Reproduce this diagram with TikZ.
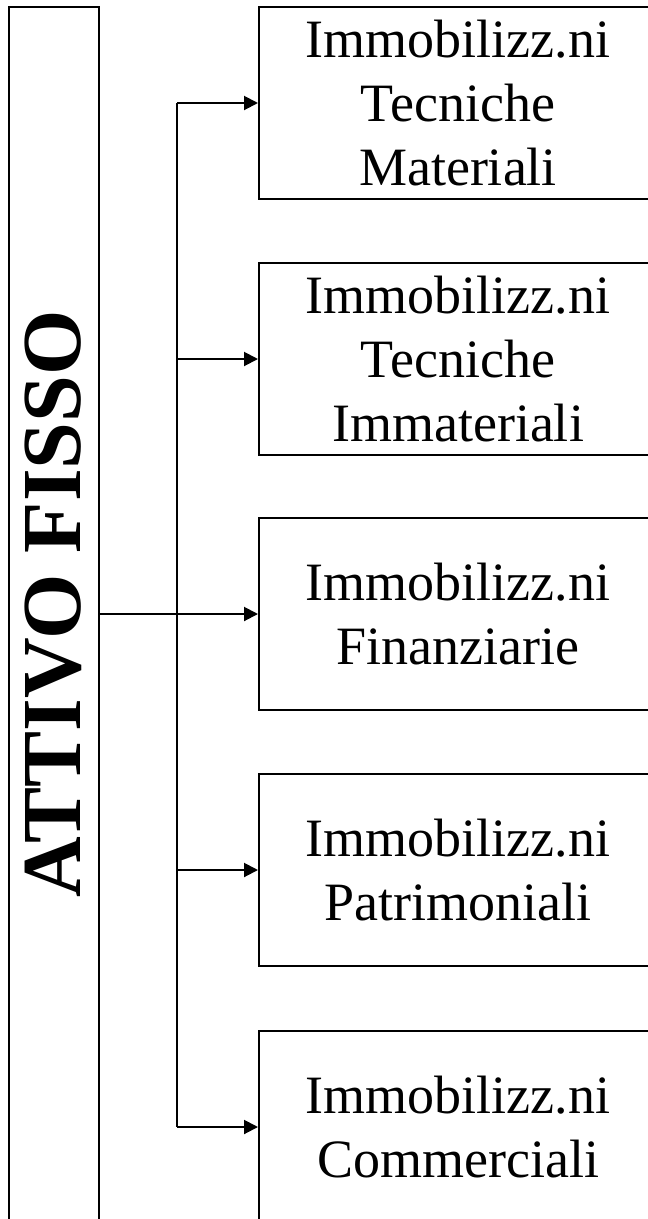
\documentclass[tikz,border=0pt]{standalone}
\usepackage{fontspec}
\setmainfont{Liberation Serif}
\usetikzlibrary{arrows.meta}

\tikzset{
  voce/.style={draw, line width=2pt, minimum width=398pt, minimum height=192pt,
    anchor=west, align=center, inner sep=0pt,
    font=\fontsize{54}{64}\selectfont},
  freccia/.style={line width=2pt, -{Triangle[length=14pt,width=14pt]}}
}

\begin{document}
\begin{tikzpicture}[x=1pt,y=-1pt]
	\useasboundingbox (0,0) rectangle (648,1219);
	\clip (0,0) rectangle (648,1219);
	\node[draw, line width=2pt, minimum width=90pt, minimum height=1240pt, anchor=north west, inner sep=0pt] (attivo) at (8,6) {};
	\node[rotate=90, font=\fontsize{84}{84}\bfseries] at (53,604) {ATTIVO FISSO};
	\foreach \n/\y/\testo in {1/103/{Immobilizz.ni\\Tecniche\\Materiali},
	  2/359/{Immobilizz.ni\\Tecniche\\Immateriali},
	  3/614/{Immobilizz.ni\\Finanziarie},
	  4/870/{Immobilizz.ni\\Patrimoniali},
	  5/1127/{Immobilizz.ni\\Commerciali}}{
	  \node[voce] (b\n) at (258,\y) {\testo};
	}
	\coordinate (spina) at (177,0);
	\draw[line width=2pt] (attivo.east |- b3.west) -- (spina |- b3.west);
	\draw[line width=2pt] (spina |- b1.west) -- (spina |- b5.west);
	\foreach \n in {1,...,5}
	  \draw[freccia] (spina |- b\n.west) -- (b\n.west);
\end{tikzpicture}
\end{document}
